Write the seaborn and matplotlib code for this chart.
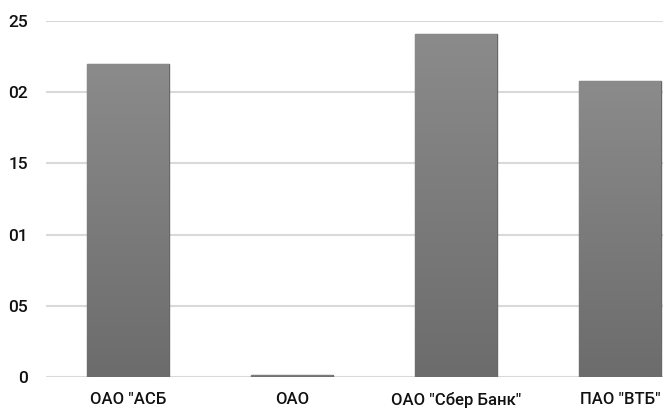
import numpy as np
import pandas as pd
import seaborn as sns
import matplotlib.pyplot as plt
from matplotlib.colors import LinearSegmentedColormap

# values (shares, 0..0.25)
banks = ['ОАО "АСБ', 'ОАО', 'ОАО "Сбер Банк"', 'ПАО "ВТБ"']
shares = [0.220, 0.0015, 0.241, 0.208]
ytick_vals = [0, 0.05, 0.10, 0.15, 0.20, 0.25]
ytick_text = ["0", "05", "01", "15", "02", "25"]

df = pd.DataFrame({"bank": banks, "share": shares})

sns.set_style("white")
plt.rcParams['font.family'] = ['Roboto', 'DejaVu Sans']

fig = plt.figure(figsize=(6.63, 4.08), dpi=100)
ax = fig.add_axes([46 / 663, 31 / 408, 656 / 663, 356 / 408])

sns.barplot(data=df, x="bank", y="share", color="#7c7c7c", width=0.5,
            edgecolor="#686868", linewidth=1.0, ax=ax, zorder=2)

# vertical gradient inside each bar, darker at the bottom
cmap = LinearSegmentedColormap.from_list("g", ["#6c6c6c", "#8b8b8b"])
grad = np.linspace(0, 1, 256).reshape(-1, 1)
for p in ax.patches:
    x0, y0 = p.get_x(), p.get_y()
    w, h = p.get_width(), p.get_height()
    im = ax.imshow(grad, cmap=cmap, aspect="auto", origin="lower",
                   extent=[x0, x0 + w, y0, y0 + h], zorder=2.5)
    im.set_clip_path(p)

ax.set_xlim(-0.5, 3.5)
ax.set_ylim(0, 0.25)
ax.set_yticks(ytick_vals)
ax.set_yticklabels(ytick_text)
ax.yaxis.grid(True, color="#d9d9d9", linewidth=1.5, zorder=0)
ax.set_axisbelow(True)
for s in ax.spines.values():
    s.set_visible(False)

ax.tick_params(axis="y", length=0, pad=13, labelsize=12.5, labelcolor="#111111")
ax.tick_params(axis="x", length=0, pad=11, labelsize=12, labelcolor="#111111")
for lbl in ax.get_xticklabels() + ax.get_yticklabels():
    lbl.set_fontweight("medium")
ax.set_xlabel("")
ax.set_ylabel("")

fig.savefig("out.png", dpi=100)
